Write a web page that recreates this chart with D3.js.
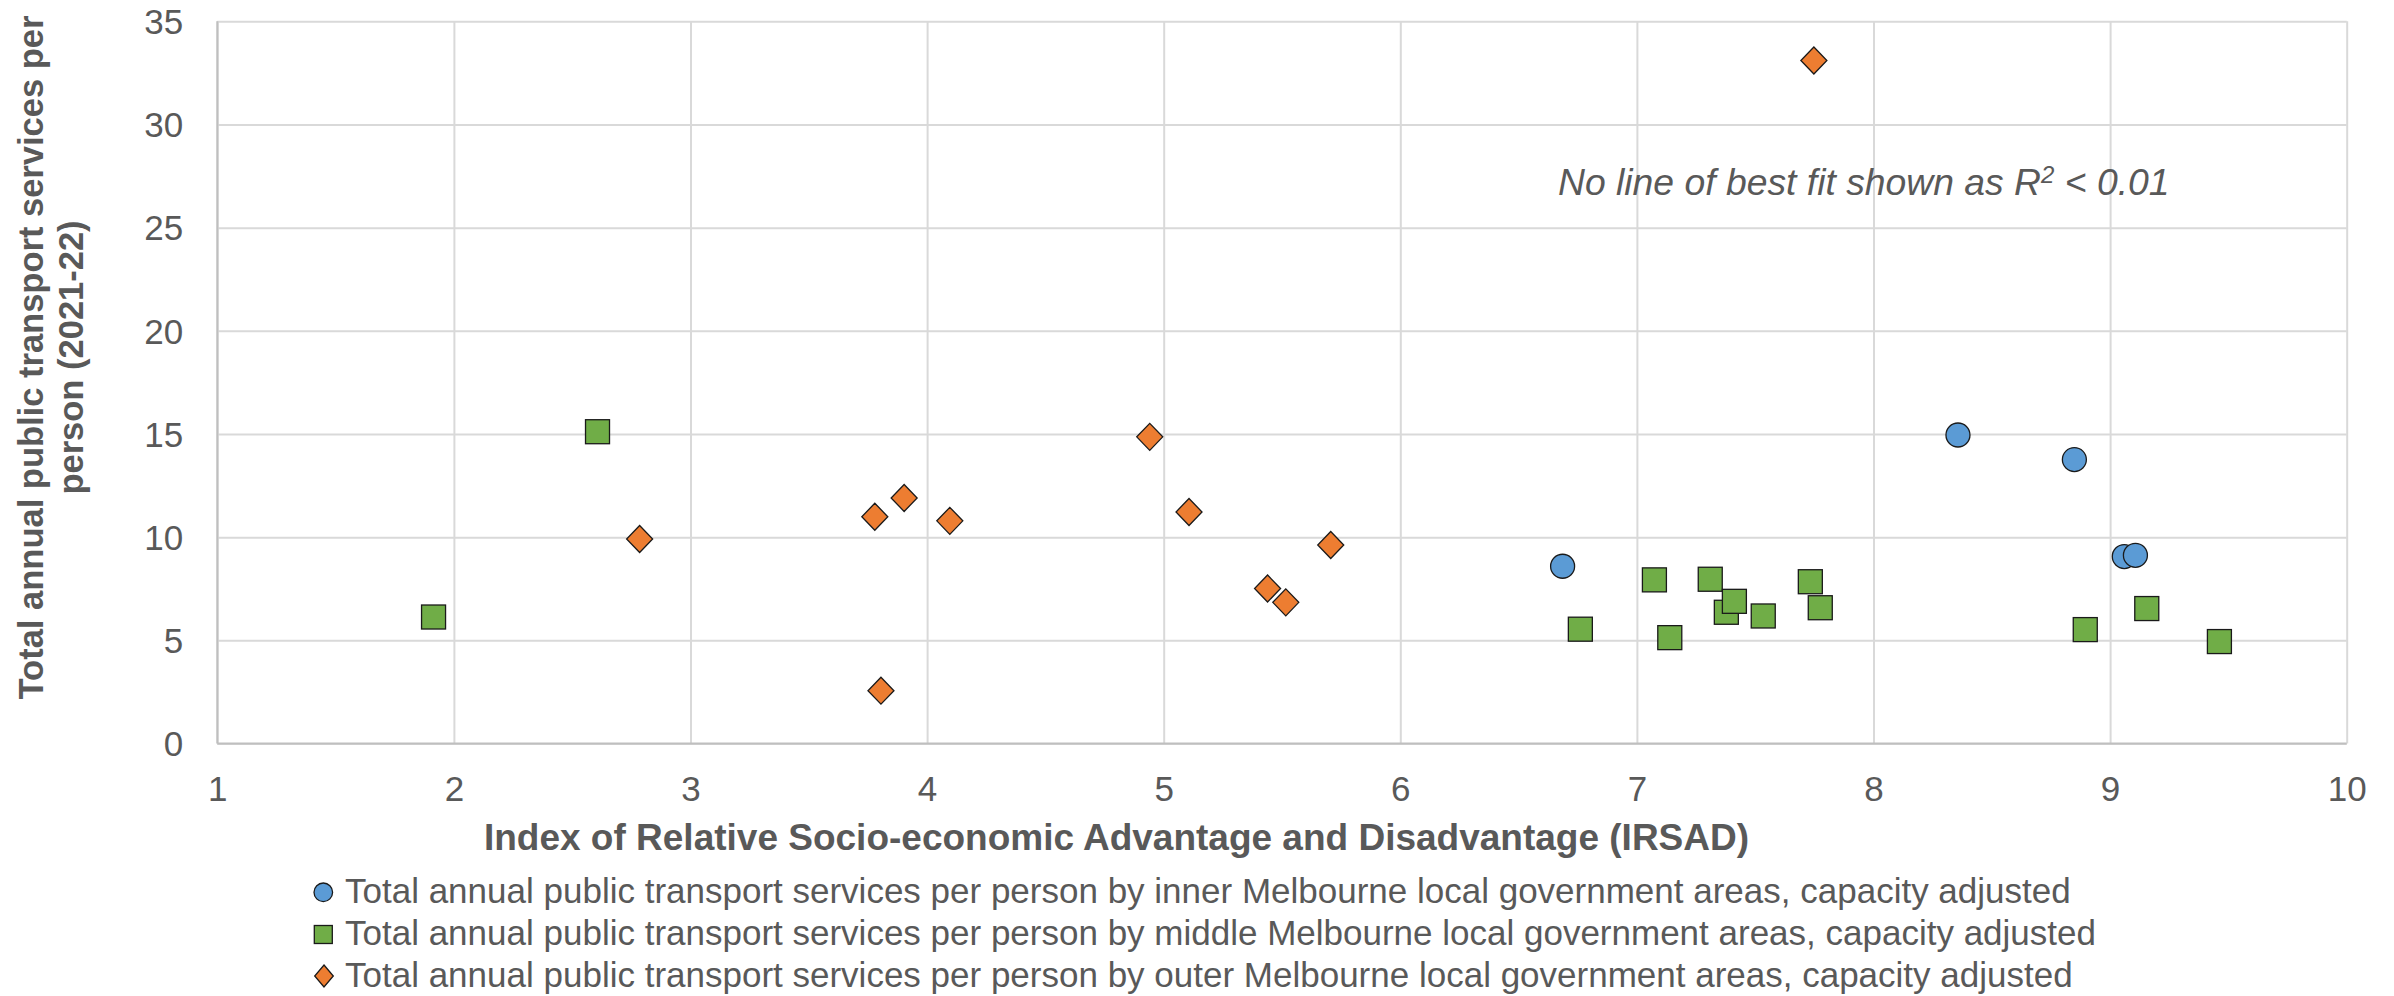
<!DOCTYPE html>
<html>
<head>
<meta charset="utf-8">
<script src="https://cdn.jsdelivr.net/npm/d3@7"></script>
<style>
  html, body { margin: 0; padding: 0; background: #ffffff; }
  svg { display: block; font-family: "Liberation Sans", Arial, sans-serif; }
</style>
</head>
<body>
<svg id="chart" width="2394" height="996"></svg>
<script>
// IRSAD score (x) and annual public transport services per person (y)
const innerX  = [6.686, 8.357, 8.849, 9.060, 9.107];
const innerY  = [8.59, 14.95, 13.76, 9.06, 9.12];

const middleX = [1.914, 2.607, 6.761, 7.074, 7.139, 7.310, 7.378, 7.412, 7.534, 7.733, 7.775, 8.895, 9.155, 9.462];
const middleY = [6.13, 15.11, 5.54, 7.93, 5.13, 7.96, 6.36, 6.89, 6.18, 7.84, 6.58, 5.52, 6.54, 4.94];

const outerX  = [2.785, 3.779, 3.805, 3.903, 4.096, 4.941, 5.107, 5.439, 5.516, 5.706, 7.748];
const outerY  = [9.91, 10.99, 2.56, 11.90, 10.79, 14.86, 11.22, 7.51, 6.84, 9.62, 33.10];

const xTicks = [1, 2, 3, 4, 5, 6, 7, 8, 9, 10];
const yTicks = [0, 5, 10, 15, 20, 25, 30, 35];

const seriesNames = [
  "Total annual public transport services per person by inner Melbourne local government areas, capacity adjusted",
  "Total annual public transport services per person by middle Melbourne local government areas, capacity adjusted",
  "Total annual public transport services per person by outer Melbourne local government areas, capacity adjusted"
];
const seriesColors = ["#5B9BD5", "#70AD47", "#ED7D31"];

const xTitle = "Index of Relative Socio-economic Advantage and Disadvantage (IRSAD)";
const yTitleLines = ["Total annual public transport services per", "person (2021-22)"];

const textColor = "#595959";
const plot = { left: 217.3, right: 2346.7, top: 21.3, bottom: 743.5 };

const svg = d3.select("#chart");

const x = d3.scaleLinear().domain([1, 10]).range([plot.left, plot.right]);
const y = d3.scaleLinear().domain([0, 35]).range([plot.bottom, plot.top]);

// vertical gridlines + x tick labels
const xAxis = svg.append("g")
  .attr("transform", `translate(0,${plot.bottom})`)
  .call(d3.axisBottom(x).tickValues(xTicks).tickSize(-(plot.bottom - plot.top)).tickPadding(0).tickFormat(d3.format("d")));
xAxis.select(".domain").remove();
xAxis.selectAll(".tick line").attr("stroke", "#d9d9d9").attr("stroke-width", 2);
xAxis.selectAll(".tick text")
  .attr("fill", textColor).attr("font-size", 35).attr("dy", null).attr("y", 57.5);

// horizontal gridlines + y tick labels
const yAxis = svg.append("g")
  .attr("transform", `translate(${plot.left},0)`)
  .call(d3.axisLeft(y).tickValues(yTicks).tickSize(-(plot.right - plot.left)).tickPadding(0).tickFormat(d3.format("d")));
yAxis.select(".domain").remove();
yAxis.selectAll(".tick line").attr("stroke", "#d9d9d9").attr("stroke-width", 2);
yAxis.selectAll(".tick text")
  .attr("fill", textColor).attr("font-size", 35).attr("x", -34).attr("dy", "0.35em");

// axis lines
svg.append("line")
  .attr("x1", plot.left).attr("x2", plot.left).attr("y1", plot.top).attr("y2", plot.bottom)
  .attr("stroke", "#bfbfbf").attr("stroke-width", 2);
svg.append("line")
  .attr("x1", plot.left).attr("x2", plot.right).attr("y1", plot.bottom).attr("y2", plot.bottom)
  .attr("stroke", "#bfbfbf").attr("stroke-width", 2);

// markers
const marks = svg.append("g");
const toPts = (xs, ys) => xs.map((v, i) => ({ x: v, y: ys[i] }));

const sq = 24;
marks.append("g").selectAll("rect")
  .data(toPts(middleX, middleY)).join("rect")
  .attr("x", d => x(d.x) - sq / 2).attr("y", d => y(d.y) - sq / 2)
  .attr("width", sq).attr("height", sq)
  .attr("fill", seriesColors[1]).attr("stroke", "#1a1a1a").attr("stroke-width", 1.3);

const dw = 13, dh = 13.5;
marks.append("g").selectAll("path")
  .data(toPts(outerX, outerY)).join("path")
  .attr("d", d => {
    const cx = x(d.x), cy = y(d.y);
    return `M${cx},${cy - dh}L${cx + dw},${cy}L${cx},${cy + dh}L${cx - dw},${cy}Z`;
  })
  .attr("fill", seriesColors[2]).attr("stroke", "#1a1a1a").attr("stroke-width", 1.3);

marks.append("g").selectAll("circle")
  .data(toPts(innerX, innerY)).join("circle")
  .attr("cx", d => x(d.x)).attr("cy", d => y(d.y)).attr("r", 12)
  .attr("fill", seriesColors[0]).attr("stroke", "#1a1a1a").attr("stroke-width", 1.3);

// annotation
const note = svg.append("text")
  .attr("x", 1558).attr("y", 195)
  .attr("fill", textColor).attr("font-size", 37.3).attr("font-style", "italic");
note.append("tspan").text("No line of best fit shown as R");
note.append("tspan").attr("font-size", 24).attr("dy", -12).text("2");
note.append("tspan").attr("dy", 12).text(" < 0.01");

// axis titles
svg.append("text")
  .attr("x", 1116.5).attr("y", 849.5).attr("text-anchor", "middle")
  .attr("fill", textColor).attr("font-size", 37).attr("font-weight", "bold")
  .text(xTitle);

const yTitle = svg.append("text")
  .attr("transform", "translate(43,357.5) rotate(-90)")
  .attr("text-anchor", "middle")
  .attr("fill", textColor).attr("font-size", 34.5).attr("font-weight", "bold");
yTitle.selectAll("tspan").data(yTitleLines).join("tspan")
  .attr("x", 0).attr("dy", (d, i) => i === 0 ? 0 : 40)
  .text(d => d);

// legend
const legendRowY = [903.3, 945, 986.7];
const legend = svg.append("g");
const rows = legend.selectAll("g").data(seriesNames).join("g")
  .attr("transform", (d, i) => `translate(0,${legendRowY[i]})`);
rows.append("text")
  .attr("x", 345).attr("y", 0)
  .attr("fill", textColor).attr("font-size", 35)
  .text(d => d);

legend.append("circle")
  .attr("cx", 323.3).attr("cy", legendRowY[0] - 11).attr("r", 9.3)
  .attr("fill", seriesColors[0]).attr("stroke", "#1a1a1a").attr("stroke-width", 1.3);
legend.append("rect")
  .attr("x", 314.3).attr("y", legendRowY[1] - 19.5).attr("width", 18).attr("height", 18)
  .attr("fill", seriesColors[1]).attr("stroke", "#1a1a1a").attr("stroke-width", 1.3);
legend.append("path")
  .attr("d", () => {
    const cx = 324, cy = legendRowY[2] - 10.7;
    return `M${cx},${cy - 11}L${cx + 9.3},${cy}L${cx},${cy + 11}L${cx - 9.3},${cy}Z`;
  })
  .attr("fill", seriesColors[2]).attr("stroke", "#1a1a1a").attr("stroke-width", 1.3);
</script>
</body>
</html>
